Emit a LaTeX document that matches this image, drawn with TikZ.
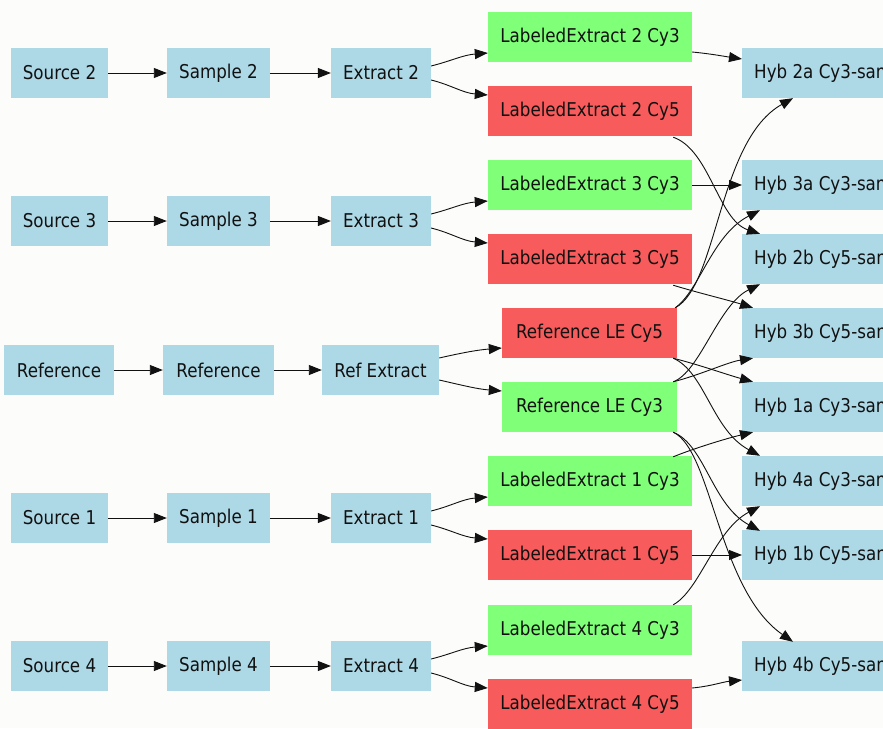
\documentclass[tikz,border=0pt]{standalone}
\usepackage{fontspec}
\setmainfont[FakeStretch=0.88]{DejaVu Sans}
\usetikzlibrary{calc,arrows.meta}

\definecolor{bgcol}{HTML}{FCFCFA}
\definecolor{boxblue}{HTML}{ADD8E6}
\definecolor{boxgreen}{HTML}{80FF78}
\definecolor{boxred}{HTML}{F75B5B}
\definecolor{inkcol}{HTML}{111111}

\tikzset{
  box/.style={rectangle, inner xsep=12pt, inner ysep=0pt, minimum height=50pt,
    text=inkcol, font=\fontsize{19}{22}\selectfont},
  blue/.style={box, fill=boxblue},
  green/.style={box, fill=boxgreen},
  red/.style={box, fill=boxred},
  hyb/.style={box, fill=boxblue, anchor=west},
  link/.style={draw=inkcol, line width=0.9pt,
    -{Triangle[length=13pt,width=10pt]}},
}

\begin{document}
\begin{tikzpicture}[x=1pt,y=-1pt]
  \fill[bgcol] (0,0) rectangle (883,728);
  \useasboundingbox (0,0) rectangle (883,728);
  \clip (0,0) rectangle (883,728);

  % sources
  \node[blue, minimum width=97pt]  (src2) at (59.5,73)  {Source 2};
  \node[blue, minimum width=97pt]  (src3) at (59.5,221) {Source 3};
  \node[blue, minimum width=110pt] (ref1) at (59,370)   {Reference};
  \node[blue, minimum width=97pt]  (src1) at (59.5,518) {Source 1};
  \node[blue, minimum width=97pt]  (src4) at (59.5,666) {Source 4};

  % samples
  \node[blue, minimum width=103pt] (smp2) at (218.5,73)  {Sample 2};
  \node[blue, minimum width=103pt] (smp3) at (218.5,221) {Sample 3};
  \node[blue, minimum width=111pt] (ref2) at (218.5,370) {Reference};
  \node[blue, minimum width=103pt] (smp1) at (218.5,518) {Sample 1};
  \node[blue, minimum width=103pt] (smp4) at (218.5,666) {Sample 4};

  % extracts
  \node[blue, minimum width=98pt]  (ext2) at (381,73)    {Extract 2};
  \node[blue, minimum width=98pt]  (ext3) at (381,221)   {Extract 3};
  \node[blue, minimum width=117pt] (refx) at (380.5,370) {Ref Extract};
  \node[blue, minimum width=98pt]  (ext1) at (381,518)   {Extract 1};
  \node[blue, minimum width=98pt]  (ext4) at (381,666)   {Extract 4};

  % labeled extracts
  \node[green, minimum width=204pt] (le2g) at (590,37)  {LabeledExtract 2 Cy3};
  \node[red,   minimum width=204pt] (le2r) at (590,111) {LabeledExtract 2 Cy5};
  \node[green, minimum width=204pt] (le3g) at (590,185) {LabeledExtract 3 Cy3};
  \node[red,   minimum width=204pt] (le3r) at (590,259) {LabeledExtract 3 Cy5};
  \node[red,   minimum width=175pt] (rle5) at (589.5,333) {Reference LE Cy5};
  \node[green, minimum width=175pt] (rle3) at (589.5,407) {Reference LE Cy3};
  \node[green, minimum width=204pt] (le1g) at (590,481) {LabeledExtract 1 Cy3};
  \node[red,   minimum width=204pt] (le1r) at (590,555) {LabeledExtract 1 Cy5};
  \node[green, minimum width=204pt] (le4g) at (590,630) {LabeledExtract 4 Cy3};
  \node[red,   minimum width=204pt] (le4r) at (590,704) {LabeledExtract 4 Cy5};

  % hybridizations
  \node[hyb] (h2a) at (742,73)  {Hyb 2a Cy3-sample};
  \node[hyb] (h3a) at (742,185) {Hyb 3a Cy3-sample};
  \node[hyb] (h2b) at (742,259) {Hyb 2b Cy5-sample};
  \node[hyb] (h3b) at (742,333) {Hyb 3b Cy5-sample};
  \node[hyb] (h1a) at (742,407) {Hyb 1a Cy3-sample};
  \node[hyb] (h4a) at (742,481) {Hyb 4a Cy3-sample};
  \node[hyb] (h1b) at (742,555) {Hyb 1b Cy5-sample};
  \node[hyb] (h4b) at (742,666) {Hyb 4b Cy5-sample};

  % source -> sample -> extract
  \foreach \a/\b in {src2/smp2, src3/smp3, ref1/ref2, src1/smp1, src4/smp4,
                     smp2/ext2, smp3/ext3, ref2/refx, smp1/ext1, smp4/ext4}
    \draw[link] (\a.east) -- (\b.west);

  % extract -> labeled extracts
  \foreach \e/\g/\r in {ext2/le2g/le2r, ext3/le3g/le3r, ext1/le1g/le1r, ext4/le4g/le4r} {
    \draw[link] ($(\e.east)+(0,-7)$) .. controls +(20,-5) and +(-25,2) .. ($(\g.west)+(0,16)$);
    \draw[link] ($(\e.east)+(0,7)$)  .. controls +(20,5)  and +(-25,-2) .. ($(\r.west)+(0,-16)$);
  }
  \draw[link] ($(refx.east)+(0,-12)$) .. controls +(22,-5) and +(-25,2) .. ($(rle5.west)+(0,15)$);
  \draw[link] ($(refx.east)+(0,10)$)  .. controls +(22,5)  and +(-25,-2) .. ($(rle3.west)+(0,-16)$);

  % labeled extracts -> hybridizations
  \draw[link] ($(le2g.east)+(0,15)$) .. controls +(20,2) and +(-20,-3) .. ($(h2a.west)+(0,-14)$);
  \draw[link] ($(le2r.south east)+(-19,1)$) .. controls (710,150) and (718,220) .. ($(h2b.north west)+(18,0)$);
  \draw[link] (le3g.east) -- (h3a.west);
  \draw[link] ($(le3r.south east)+(-19,1)$) .. controls (695,292) and (728,300) .. ($(h3b.north west)+(11,0)$);

  \draw[link] ($(rle5.north east)+(-2,0)$) .. controls (718,285) and (718,140) .. ($(h2a.south west)+(51,0)$);
  \draw[link] ($(rle5.north east)+(-2,0)$) .. controls (700,290) and (712,235) .. ($(h3a.south west)+(18,0)$);
  \draw[link] ($(rle5.south east)+(-4,0)$) .. controls (700,365) and (728,375) .. ($(h1a.north west)+(11,0)$);
  \draw[link] ($(rle5.south east)+(-4,0)$) .. controls (705,372) and (712,430) .. ($(h4a.north west)+(18,0)$);

  \draw[link] ($(rle3.north east)+(-4,0)$) .. controls (700,372) and (718,305) .. ($(h2b.south west)+(18,0)$);
  \draw[link] ($(rle3.north east)+(-4,0)$) .. controls (700,375) and (728,362) .. ($(h3b.south west)+(11,0)$);
  \draw[link] ($(rle3.south east)+(-4,0)$) .. controls (705,445) and (712,505) .. ($(h1b.north west)+(18,1)$);
  \draw[link] ($(rle3.south east)+(-4,0)$) .. controls (712,450) and (718,590) .. ($(h4b.north west)+(51,1)$);

  \draw[link] ($(le1g.north east)+(-19,1)$) .. controls (695,448) and (728,438) .. ($(h1a.south west)+(11,0)$);
  \draw[link] (le1r.east) -- (h1b.west);
  \draw[link] ($(le4g.north east)+(-19,0)$) .. controls (700,590) and (715,530) .. ($(h4a.south west)+(18,0)$);
  \draw[link] ($(le4r.east)+(0,-16)$) .. controls +(20,-2) and +(-20,2) .. ($(h4b.west)+(0,14)$);
\end{tikzpicture}
\end{document}
